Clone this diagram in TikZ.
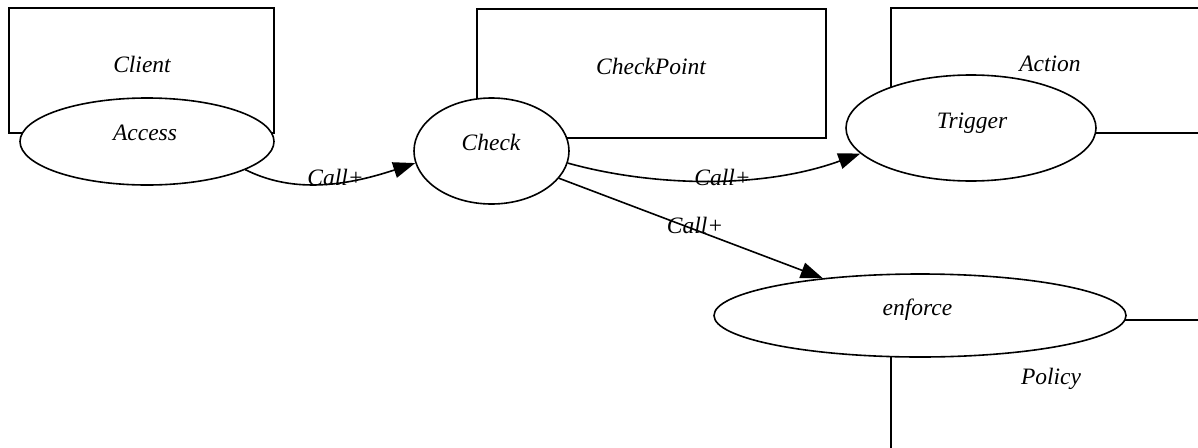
\documentclass[tikz,border=0pt]{standalone}
\usepackage{fontspec}
\setmainfont{Liberation Serif}
\usetikzlibrary{shapes.geometric,arrows.meta}
\begin{document}
\begin{tikzpicture}[x=1pt,y=-1pt,
  box/.style={draw, line width=1.6pt, rectangle, inner sep=0pt},
  ell/.style={draw, line width=1.6pt, ellipse, fill=white, inner sep=0pt},
  lbl/.style={font=\fontsize{23.5}{28}\selectfont\itshape, anchor=base, inner sep=0pt},
  conn/.style={line width=1.6pt, -{Triangle[length=22pt,width=16pt]}}]
\clip (0,0) rectangle (1198,447);
\fill[white] (0,0) rectangle (1198,447);
% clusters
\node[box, minimum width=265pt, minimum height=125pt] (clientbox) at (141.5,70.5) {};
\node[box, minimum width=349pt, minimum height=129pt] (cpbox) at (651.5,73.5) {};
\node[box, minimum width=359pt, minimum height=125pt] (actionbox) at (1070.5,70.5) {};
\node[box, minimum width=359pt, minimum height=180pt] (policybox) at (1070.5,410) {};
% ellipses
\node[ell, minimum width=254pt, minimum height=87pt] (access) at (147,141.5) {};
\node[ell, minimum width=155pt, minimum height=106pt] (check) at (491.5,151) {};
\node[ell, minimum width=250pt, minimum height=106pt] (trigger) at (971,128) {};
\node[ell, minimum width=412pt, minimum height=83pt] (enforce) at (920,315.5) {};
% texts
\node[lbl] (tclient) at (142,72) {Client};
\node[lbl] (tcp) at (651,74) {CheckPoint};
\node[lbl] (taction) at (1050,71) {Action};
\node[lbl] (tpolicy) at (1051,384) {Policy};
\node[lbl] (taccess) at (145,140) {Access};
\node[lbl] (tcheck) at (491,150) {Check};
\node[lbl] (ttrigger) at (972,128) {Trigger};
\node[lbl] (tenforce) at (917.5,315) {enforce};
% edges
\draw[conn] (access.-16) .. controls (290,192) and (340,188) .. (check.189);
\draw[conn] (check.-9) .. controls (650,186) and (760,190) .. (trigger.193);
\draw[conn] (check.-22) -- (enforce.159);
\node[lbl] (l1) at (335.5,185) {Call+};
\node[lbl] (l2) at (722.5,185) {Call+};
\node[lbl] (l3) at (695,233) {Call+};
\end{tikzpicture}
\end{document}
